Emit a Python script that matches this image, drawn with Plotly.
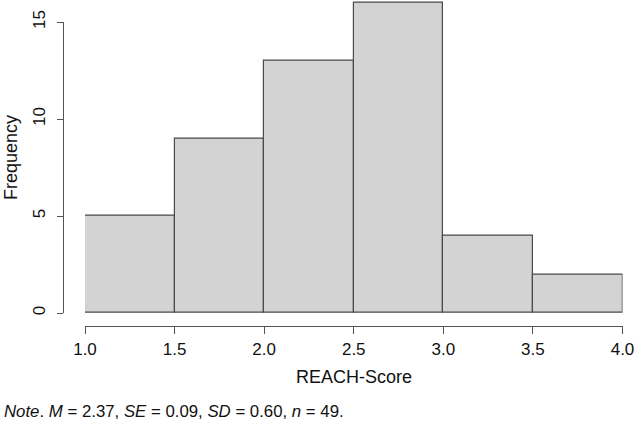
import plotly.graph_objects as go

bin_starts = [1.0, 1.5, 2.0, 2.5, 3.0, 3.5]
bin_width = 0.5
frequencies = [5, 9, 13, 16, 4, 2]
x_tick_vals = [1.0, 1.5, 2.0, 2.5, 3.0, 3.5, 4.0]
x_tick_text = ["1.0", "1.5", "2.0", "2.5", "3.0", "3.5", "4.0"]
y_tick_vals = [0, 5, 10, 15]
x_title = "REACH-Score"
y_title = "Frequency"
note = "<i>Note</i>. <i>M</i> = 2.37, <i>SE</i> = 0.09, <i>SD</i> = 0.60, <i>n</i> = 49."

W, H = 638, 425
def fx(px):
    return px / W
def fy(py):
    return 1 - py / H

FONT = "Liberation Sans, Arial, Helvetica, sans-serif"
AX = "#555555"

fig = go.Figure()
fig.add_trace(go.Bar(
    x=[s + bin_width / 2 for s in bin_starts], y=frequencies, width=bin_width,
    marker=dict(color="#d3d3d3", line=dict(color="#4a4a4a", width=1.2)),
    xaxis="x", yaxis="y", showlegend=False, hoverinfo="x+y",
))
# invisible trace so the display y axis is drawn
fig.add_trace(go.Scatter(x=[None], y=[None], xaxis="x", yaxis="y2",
                         mode="markers", showlegend=False, hoverinfo="skip"))

y0_px, y15_px = 313, 22
ppu = (y0_px - y15_px) / 15.0
ytop = 16.1
fig.update_layout(
    width=W, height=H,
    margin=dict(l=0, r=0, t=0, b=0, autoexpand=False),
    paper_bgcolor="white", plot_bgcolor="rgba(0,0,0,0)",
    font=dict(family=FONT, size=17, color="#111111"),
    bargap=0,
    xaxis=dict(
        domain=[fx(85), fx(622.5)], range=[1.0, 4.0],
        anchor="free", position=fy(326), automargin=False,
        showline=True, linecolor=AX, linewidth=1.2,
        ticks="outside", ticklen=7, tickwidth=1.2, tickcolor=AX,
        tickvals=x_tick_vals, ticktext=x_tick_text,
        showgrid=False, zeroline=False, fixedrange=True,
        tickfont=dict(size=17),
    ),
    yaxis=dict(
        domain=[fy(y0_px), fy(y0_px - ytop * ppu)], range=[0, ytop],
        visible=False, showgrid=False, zeroline=False, fixedrange=True,
        automargin=False,
    ),
    yaxis2=dict(
        domain=[fy(y0_px), fy(y15_px)], range=[0, 15],
        anchor="free", position=fx(63), automargin=False,
        showline=True, linecolor=AX, linewidth=1.2,
        ticks="outside", ticklen=6, tickwidth=1.2, tickcolor=AX,
        tickvals=y_tick_vals, ticktext=[str(v) for v in y_tick_vals],
        tickangle=-90, ticklabelstandoff=5,
        showgrid=False, zeroline=False, fixedrange=True,
        tickfont=dict(size=17),
    ),
    annotations=[
        dict(text=x_title, x=fx(353.5), y=fy(377), xref="paper", yref="paper",
             showarrow=False, font=dict(size=18), xanchor="center", yanchor="middle"),
        dict(text=y_title, x=fx(11), y=fy(158), xref="paper", yref="paper",
             showarrow=False, font=dict(size=18), textangle=-90,
             xanchor="center", yanchor="middle"),
        dict(text=note, x=fx(2), y=fy(411), xref="paper", yref="paper",
             showarrow=False, font=dict(size=16.8), xanchor="left", yanchor="middle"),
    ],
)
fig.write_html(
    "out.html",
    config={"displayModeBar": False},
    post_script="document.body.style.margin='0';document.body.style.overflow='hidden';",
)
